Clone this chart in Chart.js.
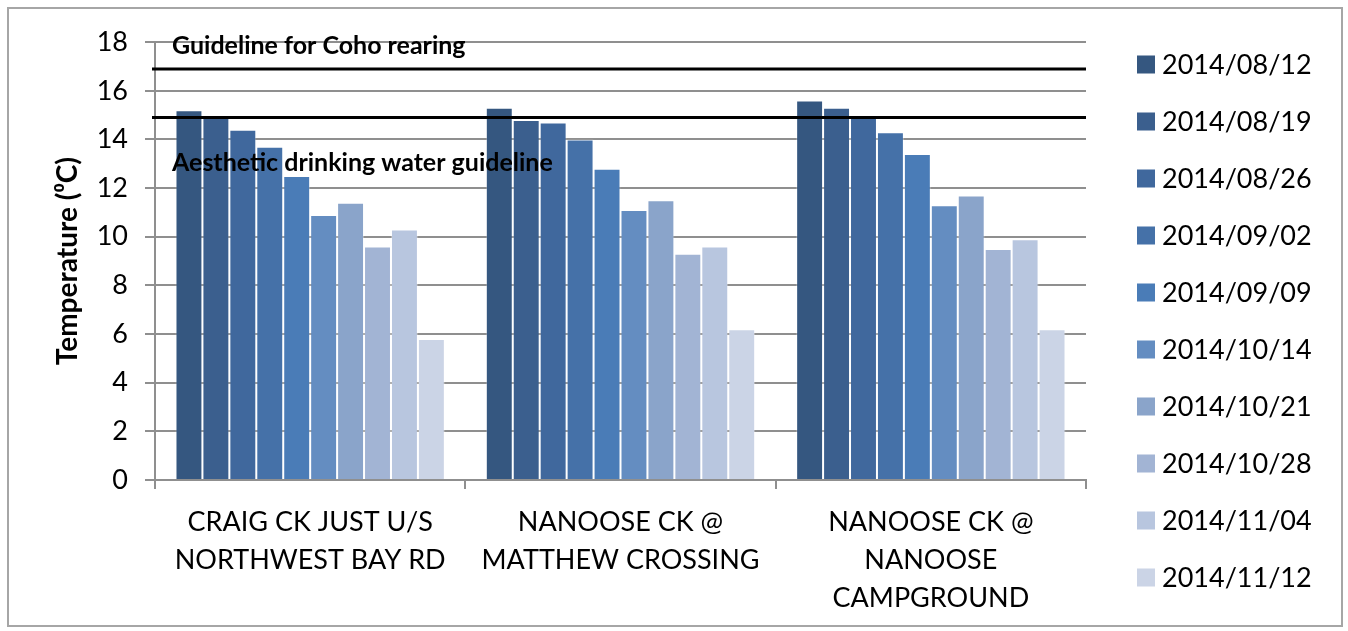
<!DOCTYPE html>
<html>
<head>
<meta charset="utf-8">
<script src="https://cdn.jsdelivr.net/npm/chart.js@4"></script>
<style>
  body { margin: 0; background: #fff; }
  #frame { position: absolute; left: 7px; top: 7px; width: 1332px; height: 616px; border: 2px solid #a6a6a6; }
</style>
</head>
<body>
<div id="frame"><canvas id="chart"></canvas></div>
<script>
// sites along the x axis (multi-line labels)
const sites = [
    ['CRAIG CK JUST U/S', 'NORTHWEST BAY RD'],
    ['NANOOSE CK @', 'MATTHEW CROSSING'],
    ['NANOOSE CK @', 'NANOOSE', 'CAMPGROUND']
];

// sampling dates = one series each
const dates = ['2014/08/12', '2014/08/19', '2014/08/26', '2014/09/02', '2014/09/09',
               '2014/10/14', '2014/10/21', '2014/10/28', '2014/11/04', '2014/11/12'];

// temperature per date, one value per site
const temps = [
    [15.2, 15.3, 15.6],
    [15.0, 14.8, 15.3],
    [14.4, 14.7, 14.9],
    [13.7, 14.0, 14.3],
    [12.5, 12.8, 13.4],
    [10.9, 11.1, 11.3],
    [11.4, 11.5, 11.7],
    [9.6,  9.3,  9.5],
    [10.3, 9.6,  9.9],
    [5.8,  6.2,  6.2]
];

const barColors = ['#355780', '#3b5f8e', '#40689d', '#4571a8', '#4a7cb7',
                   '#648dc1', '#8aa4ca', '#a2b4d4', '#b8c6df', '#cbd4e6'];

// guideline lines
const guideValues = [16.9, 14.9];
const guideLabels = ['Guideline for Coho rearing', 'Aesthetic drinking water guideline'];

const yTicks = [0, 2, 4, 6, 8, 10, 12, 14, 16, 18];

const FONT = 'Lato, "Open Sans", sans-serif';

// draws the two horizontal guideline lines plus their text
const guidePlugin = {
    id: 'guides',
    afterDatasetsDraw(chart) {
        const ctx = chart.ctx;
        const area = chart.chartArea;
        const y = chart.scales.y;
        ctx.save();
        guideValues.forEach((v, i) => {
            const py = y.getPixelForValue(v);
            ctx.strokeStyle = '#000';
            ctx.lineWidth = 3;
            ctx.beginPath();
            ctx.moveTo(area.left - 3, py);
            ctx.lineTo(area.right, py);
            ctx.stroke();

            ctx.fillStyle = '#000';
            ctx.font = 'bold 25px ' + FONT;
            ctx.textBaseline = 'middle';
            ctx.textAlign = 'left';
            const offset = i === 0 ? -23 : 45;   // upper label sits above, lower one below
            ctx.fillText(guideLabels[i], area.left + 17, py + offset);
        });
        ctx.restore();
    }
};

// legend drawn by hand so all 10 rows stay in one column
const legendPlugin = {
    id: 'sideLegend',
    afterDraw(chart) {
        const ctx = chart.ctx;
        const area = chart.chartArea;
        const sets = chart.data.datasets;
        const rowH = 57;
        const top = chart.height / 2 + 4 - rowH * (sets.length - 1) / 2;
        ctx.save();
        ctx.font = '27px ' + FONT;
        ctx.textBaseline = 'middle';
        ctx.textAlign = 'left';
        sets.forEach((ds, i) => {
            const cy = top + i * rowH;
            ctx.fillStyle = ds.backgroundColor;
            ctx.fillRect(area.right + 51, cy - 9, 18, 18);
            ctx.fillStyle = '#000';
            ctx.fillText(ds.label, area.right + 76, cy + 1);
        });
        ctx.restore();
    }
};

const datasets = dates.map((d, i) => ({
    label: d,
    data: temps[i],
    backgroundColor: barColors[i],
    borderColor: 'rgba(255,255,255,0.3)',
    borderWidth: 1,
    categoryPercentage: 0.868,
    barPercentage: 1.0
}));

new Chart(document.getElementById('chart'), {
    type: 'bar',
    data: { labels: sites, datasets: datasets },
    options: {
        responsive: true,
        maintainAspectRatio: false,
        animation: false,
        layout: { padding: { top: 16, left: 30, right: 255, bottom: 0 } },
        scales: {
            x: {
                afterFit: axis => { axis.height = 145; },
                grid: { drawOnChartArea: false, drawTicks: true, tickLength: 9, color: '#8f8f8f', lineWidth: 2, offset: true },
                border: { color: '#8f8f8f', width: 2 },
                ticks: { color: '#000', font: { family: FONT, size: 27, lineHeight: 1.39 }, padding: 15, maxRotation: 0, autoSkip: false }
            },
            y: {
                min: 0,
                max: 18,
                afterFit: axis => { axis.width = 116; },
                afterBuildTicks: axis => { axis.ticks = yTicks.map(v => ({ value: v })); },
                grid: { color: '#8f8f8f', lineWidth: 2, tickLength: 10 },
                border: { color: '#8f8f8f', width: 2 },
                ticks: { color: '#000', font: { family: FONT, size: 27 }, padding: 17 },
                title: { display: true, text: 'Temperature (\u2070C)', color: '#000', font: { family: FONT, size: 28, weight: 'bold' }, padding: { top: 12, bottom: 0 } }
            }
        },
        plugins: {
            legend: { display: false },
            tooltip: { enabled: false }
        }
    },
    plugins: [guidePlugin, legendPlugin]
});
</script>
</body>
</html>
